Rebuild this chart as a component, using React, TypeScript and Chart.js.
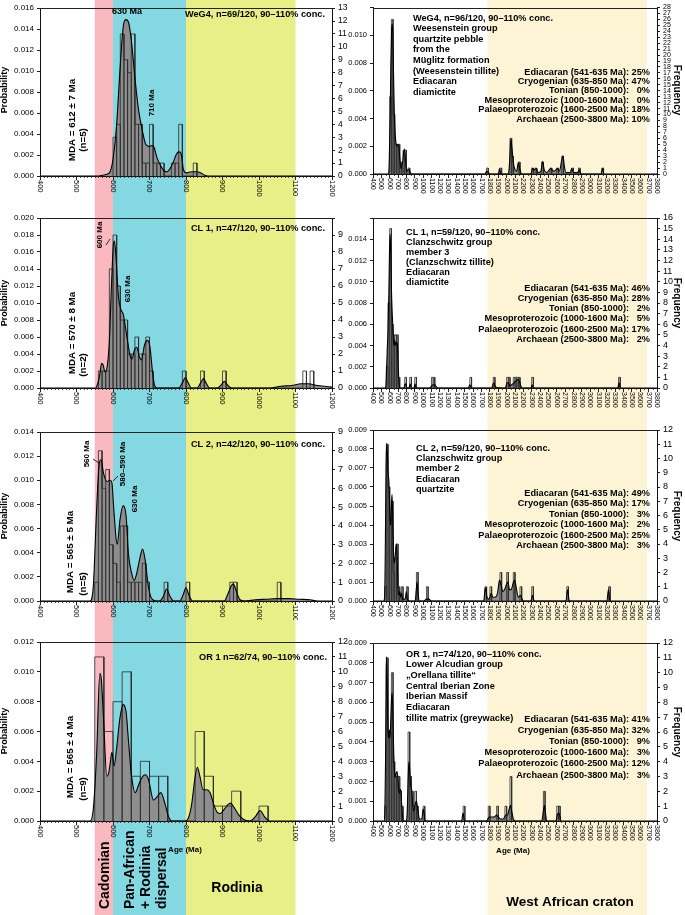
import React, { useEffect, useRef } from 'react';
import { Chart, registerables } from 'chart.js';

Chart.register(...registerables);

const FONT = '"Liberation Sans", Arial, Helvetica, sans-serif';
Chart.defaults.font.family = FONT;
Chart.defaults.color = '#000';

type Pair = [number, number];

// ---------------- axis tick labels ----------------
const LEFT_AGE_TICKS = [400, 500, 600, 700, 800, 900, 1000, 1100, 1200];
const RIGHT_AGE_TICKS = [400, 500, 600, 700, 800, 900, 1000, 1100, 1200, 1300, 1400, 1500, 1600, 1700, 1800, 1900, 2000, 2100, 2200, 2300, 2400, 2500, 2600, 2700, 2800, 2900, 3000, 3100, 3200, 3300, 3400, 3500, 3600, 3700, 3800];

// ---------------- background age ranges ----------------
const LEFT_BAND_RANGES: Pair[] = [[550, 600], [600, 800], [800, 1100]];
const RIGHT_BAND_RANGES: Pair[] = [[1770, 3680]];

// ---------------- period table ----------------
const PERIOD_LABELS = [
  'Ediacaran (541-635 Ma):',
  'Cryogenian (635-850 Ma):',
  'Tonian (850-1000):',
  'Mesoproterozoic (1000-1600 Ma):',
  'Palaeoproterozoic (1600-2500 Ma):',
  'Archaean (2500-3800 Ma):',
];
const R1_PCT = ['25%', '47%', '0%', '0%', '18%', '10%'];
const R2_PCT = ['46%', '28%', '2%', '5%', '17%', '2%'];
const R3_PCT = ['49%', '17%', '3%', '2%', '25%', '3%'];
const R4_PCT = ['41%', '32%', '9%', '3%', '12%', '3%'];

const R1_INFO = ['WeG4, n=96/120, 90–110% conc.', 'Weesenstein group', 'quartzite pebble', 'from the', 'Müglitz formation', '(Weesenstein tillite)', 'Ediacaran', 'diamictite'];
const R2_INFO = ['CL 1, n=59/120, 90–110% conc.', 'Clanzschwitz group', 'member 3', '(Clanzschwitz tillite)', 'Ediacaran', 'diamictite'];
const R3_INFO = ['CL 2, n=59/120, 90–110% conc.', 'Clanzschwitz group', 'member 2', 'Ediacaran', 'quartzite'];
const R4_INFO = ['OR 1, n=74/120, 90–110% conc.', 'Lower Alcudian group', '„Orellana tillite“', 'Central Iberian Zone', 'Iberian Massif', 'Ediacaran', 'tillite matrix (greywacke)'];

// ---------------- left panels (550-1200 Ma) ----------------
// WeG4
const L1_KDE: Pair[] = [[400, 0], [560, 0], [575, 0.0001], [585, 0.0002], [592, 0.0004], [600, 0.0016], [610, 0.0049], [620, 0.0106], [628, 0.0142], [635, 0.0149], [642, 0.0147], [650, 0.013], [660, 0.0094], [670, 0.0063], [680, 0.0044], [690, 0.003], [700, 0.0028], [707, 0.0029], [713, 0.0027], [720, 0.0018], [730, 0.001], [740, 0.0005], [748, 0.0004], [756, 0.0007], [765, 0.0013], [774, 0.0021], [782, 0.0023], [788, 0.0019], [793, 0.0006], [802, 0.0003], [815, 0.0004], [829, 0.0004], [840, 0.0003], [850, 0.0001], [860, 0], [1200, 0]];
const L1_HIST: Pair[] = [[600, 3], [610, 4], [620, 11], [630, 9], [640, 8], [650, 11], [660, 4], [670, 4], [680, 1], [690, 1], [700, 4], [710, 1], [720, 1], [730, 1], [760, 1], [770, 1], [780, 4], [820, 1]];
// CL 1
const L2_KDE: Pair[] = [[400, 0], [552, 0], [558, 0.0005], [563, 0.0014], [569, 0.0029], [573, 0.0027], [578, 0.0019], [584, 0.0025], [590, 0.0055], [596, 0.0123], [601, 0.0168], [604, 0.0173], [608, 0.0155], [615, 0.0107], [622, 0.0092], [628, 0.0087], [634, 0.0072], [640, 0.0055], [647, 0.0038], [652, 0.0034], [659, 0.0045], [665, 0.0048], [672, 0.0037], [678, 0.0033], [686, 0.005], [694, 0.0056], [701, 0.0049], [708, 0.002], [714, 0.0003], [720, 0], [780, 0], [790, 0.0006], [798, 0.0012], [806, 0.0006], [815, 0], [830, 0], [840, 0.0006], [848, 0.0011], [856, 0.0005], [865, 0], [885, 0], [897, 0.0004], [905, 0.0008], [913, 0.0004], [925, 0], [1030, 0], [1060, 0.0002], [1090, 0.0003], [1115, 0.0005], [1135, 0.0005], [1160, 0.0003], [1180, 0.0002], [1200, 0.0001]];
const L2_HIST: Pair[] = [[560, 1], [570, 1], [580, 1], [590, 7], [600, 9], [610, 6], [620, 4], [630, 4], [640, 2], [650, 2], [660, 3], [670, 2], [680, 2], [690, 3], [700, 1], [790, 1], [840, 1], [900, 1], [1120, 1], [1140, 1]];
// CL 2
const L3_KDE: Pair[] = [[400, 0], [537, 0], [546, 0.0012], [555, 0.0075], [562, 0.0113], [567, 0.0117], [574, 0.0106], [583, 0.0099], [592, 0.01], [597, 0.0098], [601, 0.0081], [608, 0.0053], [612, 0.0047], [619, 0.0067], [628, 0.0079], [636, 0.007], [642, 0.004], [651, 0.0023], [658, 0.0017], [665, 0.0023], [674, 0.0036], [681, 0.0043], [688, 0.0034], [697, 0.0012], [706, 0.0002], [718, 0], [728, 0], [738, 0.0004], [747, 0.001], [756, 0.0004], [766, 0], [783, 0], [792, 0.0005], [800, 0.0011], [808, 0.0005], [818, 0], [905, 0], [915, 0.0006], [925, 0.0013], [930, 0.0014], [938, 0.0008], [948, 0.0001], [960, 0], [990, 0.0001], [1020, 0.00015], [1050, 0.0002], [1080, 0.0002], [1110, 0.00015], [1140, 0.0001], [1160, 0], [1200, 0]];
const L3_HIST: Pair[] = [[550, 1], [560, 8], [570, 6], [580, 7], [590, 3], [600, 2], [610, 1], [620, 4], [630, 4], [640, 1], [650, 1], [660, 1], [670, 1], [680, 2], [690, 1], [740, 1], [800, 1], [920, 1], [930, 1], [1050, 1]];
// OR 1 (25 Ma bins)
const L4_KDE: Pair[] = [[400, 0], [537, 0], [546, 0.0008], [555, 0.0044], [564, 0.0099], [568, 0.0095], [574, 0.0069], [583, 0.003], [588, 0.0032], [592, 0.0038], [597, 0.0046], [603, 0.0037], [610, 0.0049], [619, 0.0069], [628, 0.0078], [636, 0.0073], [642, 0.0055], [651, 0.003], [661, 0.0019], [670, 0.0024], [679, 0.0029], [688, 0.0031], [697, 0.0028], [711, 0.0014], [720, 0.0016], [731, 0.0019], [743, 0.0011], [752, 0.0003], [761, 0], [800, 0], [808, 0.0003], [816, 0.0012], [824, 0.0028], [831, 0.0036], [838, 0.003], [847, 0.0021], [857, 0.0021], [866, 0.0019], [875, 0.0012], [885, 0.0006], [894, 0.0005], [905, 0.0008], [915, 0.0011], [922, 0.0012], [932, 0.0009], [945, 0.0004], [958, 0.0001], [975, 0], [990, 0.0003], [1003, 0.0007], [1015, 0.0003], [1030, 0], [1200, 0]];
const L4_HIST: Pair[] = [[550, 11], [575, 6], [600, 8], [625, 10], [650, 3], [675, 4], [700, 3], [725, 3], [825, 6], [850, 3], [875, 1], [900, 1], [925, 2], [1000, 1]];

// ---------------- right panels (400-3800 Ma, 20 Ma bins) ----------------
const R1_KDE: Pair[] = [[400, 0], [585, 0], [595, 0.001], [605, 0.004], [613, 0.0075], [622, 0.0103], [630, 0.0108], [638, 0.01], [647, 0.0068], [656, 0.0042], [666, 0.0028], [676, 0.0022], [686, 0.002], [696, 0.0021], [706, 0.0021], [716, 0.0015], [726, 0.0008], [736, 0.0004], [746, 0.0005], [756, 0.0009], [766, 0.0015], [776, 0.0018], [785, 0.0014], [794, 0.0006], [804, 0.0002], [818, 0.0003], [832, 0.0003], [846, 0.0001], [860, 0], [1740, 0], [1760, 0.0002], [1780, 0.0001], [1800, 0], [1900, 0], [1915, 0.0004], [1930, 0], [2020, 0], [2035, 0.0008], [2050, 0.0025], [2065, 0.0018], [2080, 0.0008], [2100, 0.0003], [2120, 0.0002], [2140, 0.0008], [2160, 0.0003], [2180, 0], [2290, 0], [2310, 0.0004], [2330, 0.0003], [2355, 0.0004], [2375, 0.0001], [2410, 0.0002], [2430, 0.0009], [2450, 0.0003], [2480, 0.0001], [2510, 0.0003], [2530, 0.0004], [2560, 0.0002], [2590, 0.0003], [2605, 0.0004], [2630, 0.0002], [2660, 0.001], [2675, 0.0013], [2690, 0.0006], [2710, 0.0001], [2760, 0.0001], [2780, 0.0004], [2800, 0.0001], [2850, 0.0001], [2870, 0.0003], [2890, 0], [3130, 0], [3147, 0.0004], [3165, 0], [3800, 0]];
const R1_HIST: Pair[] = [[600, 13], [620, 26], [640, 10], [660, 5], [680, 5], [700, 5], [720, 2], [740, 1], [760, 4], [780, 4], [820, 1], [1760, 1], [1920, 1], [2040, 6], [2060, 3], [2140, 2], [2300, 1], [2340, 1], [2420, 2], [2520, 1], [2600, 1], [2660, 3], [2780, 1], [2860, 1], [3140, 1]];

const R2_KDE: Pair[] = [[400, 0], [552, 0], [560, 0.0012], [570, 0.0035], [580, 0.0055], [590, 0.009], [598, 0.013], [605, 0.0145], [612, 0.013], [620, 0.0095], [630, 0.007], [640, 0.0052], [650, 0.004], [660, 0.0045], [670, 0.004], [680, 0.0043], [690, 0.0042], [700, 0.0025], [710, 0.0006], [720, 0], [770, 0], [785, 0.0004], [795, 0.0003], [810, 0], [830, 0], [845, 0.0004], [858, 0], [890, 0], [903, 0.0004], [915, 0], [1080, 0], [1100, 0.0002], [1120, 0.0003], [1140, 0.0003], [1160, 0.0001], [1180, 0], [1540, 0], [1560, 0.0003], [1580, 0], [1820, 0], [1845, 0.0005], [1865, 0.0001], [1985, 0], [2005, 0.0005], [2020, 0.0005], [2040, 0.0002], [2060, 0.0003], [2090, 0.0005], [2115, 0.0007], [2135, 0.0008], [2155, 0.0006], [2170, 0.0002], [2185, 0], [2290, 0], [2305, 0.0003], [2320, 0], [3330, 0], [3346, 0.0005], [3362, 0], [3800, 0]];
const R2_HIST: Pair[] = [[560, 2], [580, 8], [600, 15], [620, 6], [640, 5], [660, 5], [680, 5], [700, 1], [780, 1], [840, 1], [900, 1], [1100, 1], [1120, 1], [1560, 1], [1840, 1], [2000, 1], [2020, 1], [2080, 1], [2100, 1], [2120, 1], [2140, 1], [2300, 1], [3340, 1]];

const R3_KDE: Pair[] = [[400, 0], [530, 0], [540, 0.0003], [548, 0.003], [556, 0.007], [564, 0.0083], [572, 0.0078], [580, 0.0068], [590, 0.0063], [598, 0.0052], [606, 0.004], [613, 0.004], [620, 0.005], [628, 0.0056], [636, 0.0042], [645, 0.0026], [655, 0.002], [665, 0.0023], [675, 0.0029], [683, 0.003], [692, 0.0018], [700, 0.0006], [710, 0.0003], [722, 0.0005], [732, 0.0002], [745, 0.0004], [755, 0.0001], [785, 0.0001], [800, 0.0005], [812, 0.0001], [830, 0], [905, 0], [918, 0.0006], [928, 0.001], [938, 0.0005], [952, 0], [1010, 0], [1040, 0.0001], [1070, 0.0001], [1100, 0], [1725, 0], [1745, 0.0007], [1765, 0.0002], [1790, 0.0001], [1815, 0.0004], [1835, 0.0002], [1860, 0.0002], [1890, 0.0004], [1915, 0.0011], [1935, 0.0008], [1955, 0.0005], [1975, 0.0006], [2000, 0.0009], [2015, 0.001], [2035, 0.0006], [2055, 0.0006], [2075, 0.0009], [2095, 0.0011], [2115, 0.0007], [2140, 0.0002], [2165, 0.0003], [2185, 0.0001], [2200, 0], [2290, 0], [2310, 0.0003], [2330, 0], [2710, 0], [2730, 0.0006], [2750, 0], [3200, 0], [3219, 0.0006], [3238, 0], [3800, 0]];
const R3_HIST: Pair[] = [[540, 1], [560, 11], [580, 8], [600, 6], [620, 7], [640, 2], [660, 3], [680, 4], [700, 1], [740, 1], [800, 1], [920, 2], [1040, 1], [1740, 1], [1800, 1], [1920, 2], [2000, 2], [2080, 2], [2160, 1], [2300, 1], [2720, 1], [3220, 1]];

const R4_KDE: Pair[] = [[400, 0], [530, 0], [542, 0.0004], [550, 0.003], [558, 0.0075], [564, 0.0083], [571, 0.0068], [580, 0.0045], [588, 0.0042], [596, 0.0046], [604, 0.0042], [612, 0.005], [620, 0.006], [628, 0.0065], [636, 0.0058], [645, 0.004], [655, 0.0026], [665, 0.0022], [675, 0.0024], [688, 0.0025], [700, 0.002], [712, 0.0014], [722, 0.0015], [732, 0.0016], [742, 0.0009], [752, 0.0003], [765, 0], [800, 0], [810, 0.0005], [820, 0.002], [830, 0.003], [840, 0.0026], [850, 0.0018], [862, 0.0016], [872, 0.001], [885, 0.0005], [895, 0.0006], [908, 0.0009], [920, 0.001], [932, 0.0007], [945, 0.0003], [960, 0.0001], [985, 0.0001], [1000, 0.0006], [1012, 0.0004], [1025, 0], [1460, 0], [1478, 0.0004], [1495, 0], [1760, 0], [1790, 0.0002], [1820, 0.0002], [1850, 0.0002], [1880, 0.0003], [1900, 0.0002], [1930, 0.0001], [1960, 0.0001], [1990, 0.0003], [2010, 0.0003], [2030, 0.0006], [2045, 0.0008], [2060, 0.0005], [2080, 0.0001], [2100, 0], [2420, 0], [2440, 0.0005], [2452, 0.0008], [2465, 0.0004], [2480, 0], [2590, 0], [2605, 0.0003], [2620, 0.0004], [2635, 0.0003], [2650, 0], [3800, 0]];
const R4_HIST: Pair[] = [[540, 1], [560, 11], [580, 6], [600, 6], [620, 10], [640, 4], [660, 3], [680, 3], [700, 3], [720, 2], [740, 1], [820, 6], [840, 3], [860, 2], [880, 1], [900, 2], [920, 1], [1000, 1], [1480, 1], [1780, 1], [1880, 1], [1980, 1], [2040, 3], [2440, 2], [2600, 1], [2620, 1]];

// ---------------- layout / style ----------------
const B = (s: number) => `bold ${s}px ${FONT}`;

type Txt = { t: string; x: number; y: number; rot?: number; align?: CanvasTextAlign; font: string };

interface Col {
  left: number; width: number; plotLeft: number; plotRight: number;
  xMin: number; xMax: number; ticks: number[]; minor: number; xFont: number;
  bands: Pair[]; bandColors: string[];
}

const COLS: Record<'L' | 'R', Col> = {
  L: { left: 0, width: 350, plotLeft: 40, plotRight: 332, xMin: 400, xMax: 1200, ticks: LEFT_AGE_TICKS, minor: 10, xFont: 7.5, bands: LEFT_BAND_RANGES, bandColors: ['#f9b9bf', '#84d8e1', '#e8ef86'] },
  R: { left: 340, width: 345, plotLeft: 373, plotRight: 657, xMin: 400, xMax: 3800, ticks: RIGHT_AGE_TICKS, minor: 50, xFont: 7, bands: RIGHT_BAND_RANGES, bandColors: ['#fcf4d5'] },
};

interface Panel {
  key: string; col: 'L' | 'R';
  cTop: number; pTop: number; pBot: number; cBot: number;
  kde: Pair[]; hist: Pair[]; bin: number;
  yMax: number; yStep: number; fMax: number;
  hideTopY?: boolean; hideTopF?: boolean;
  yFont: number; fFont: number;
  texts: Txt[]; leaders?: number[][];
}

function infoTexts(lines: string[], x: number, y: number, lh: number, pct: string[], py: number, ps: number): Txt[] {
  const out: Txt[] = lines.map((t, i) => ({ t, x, y: y + i * lh, align: 'left' as CanvasTextAlign, font: B(9.2) }));
  PERIOD_LABELS.forEach((t, i) => {
    out.push({ t, x: 629, y: py + i * ps, align: 'right', font: B(9.2) });
    out.push({ t: pct[i], x: 650, y: py + i * ps, align: 'right', font: B(9.2) });
  });
  return out;
}

const prob = (y: number): Txt => ({ t: 'Probability', x: 5, y, rot: -90, font: B(9) });
const freq = (y: number): Txt => ({ t: 'Frequency', x: 677, y, rot: 90, font: B(10) });

const PANELS: Panel[] = [
  {
    key: 'L1', col: 'L', cTop: 0, pTop: 5, pBot: 176, cBot: 200, kde: L1_KDE, hist: L1_HIST, bin: 10,
    yMax: 0.016, yStep: 0.002, fMax: 13, yFont: 8, fFont: 8.5,
    texts: [
      { t: 'WeG4, n=69/120, 90–110% conc.', x: 325, y: 14, align: 'right', font: B(9.2) },
      { t: '630 Ma', x: 127, y: 12, font: B(9) },
      { t: '710 Ma', x: 152, y: 103, rot: -90, font: B(8) },
      { t: 'MDA = 612 ± 7 Ma', x: 72, y: 120, rot: -90, font: B(9.8) },
      { t: '(n=5)', x: 83, y: 140, rot: -90, font: B(9.8) },
      prob(90),
    ],
  },
  {
    key: 'L2', col: 'L', cTop: 200, pTop: 218, pBot: 388, cBot: 410, kde: L2_KDE, hist: L2_HIST, bin: 10,
    yMax: 0.02, yStep: 0.002, fMax: 10, hideTopF: true, yFont: 8, fFont: 9,
    texts: [
      { t: 'CL 1, n=47/120, 90–110% conc.', x: 325, y: 228, align: 'right', font: B(9.2) },
      { t: '600 Ma', x: 100, y: 235, rot: -90, font: B(8) },
      { t: '630 Ma', x: 128, y: 289, rot: -90, font: B(8) },
      { t: 'MDA = 570 ± 8 Ma', x: 72, y: 333, rot: -90, font: B(9.8) },
      { t: '(n=2)', x: 83, y: 365, rot: -90, font: B(9.8) },
      prob(303),
    ],
    leaders: [[106, 245, 110, 239]],
  },
  {
    key: 'L3', col: 'L', cTop: 410, pTop: 432, pBot: 601, cBot: 620, kde: L3_KDE, hist: L3_HIST, bin: 10,
    yMax: 0.014, yStep: 0.002, fMax: 9, yFont: 8, fFont: 9,
    texts: [
      { t: 'CL 2, n=42/120, 90–110% conc.', x: 325, y: 444, align: 'right', font: B(9.2) },
      { t: '560 Ma', x: 87, y: 454, rot: -90, font: B(8) },
      { t: '580–590 Ma', x: 123, y: 464, rot: -90, font: B(8) },
      { t: '630 Ma', x: 135, y: 499, rot: -90, font: B(8) },
      { t: 'MDA = 565 ± 5 Ma', x: 70, y: 552, rot: -90, font: B(9.8) },
      { t: '(n=5)', x: 83, y: 584, rot: -90, font: B(9.8) },
      prob(516),
    ],
    leaders: [[93, 459, 99, 463], [113, 481, 118, 476]],
  },
  {
    key: 'L4', col: 'L', cTop: 620, pTop: 642, pBot: 821, cBot: 915, kde: L4_KDE, hist: L4_HIST, bin: 25,
    yMax: 0.012, yStep: 0.002, fMax: 12, yFont: 8, fFont: 9,
    texts: [
      { t: 'OR 1 n=62/74, 90–110% conc.', x: 327, y: 657, align: 'right', font: B(9.2) },
      { t: 'MDA = 565 ± 4 Ma', x: 70, y: 757, rot: -90, font: B(9.8) },
      { t: '(n=9)', x: 83, y: 789, rot: -90, font: B(9.8) },
      prob(731),
      { t: 'Age (Ma)', x: 185, y: 850, font: B(8) },
      { t: 'Cadomian', x: 105, y: 909, rot: -90, align: 'left', font: B(14) },
      { t: 'Pan-African', x: 130, y: 909, rot: -90, align: 'left', font: B(14) },
      { t: '+ Rodinia', x: 146, y: 909, rot: -90, align: 'left', font: B(14) },
      { t: 'dispersal', x: 162, y: 909, rot: -90, align: 'left', font: B(14) },
      { t: 'Rodinia', x: 237, y: 888, font: B(14) },
    ],
  },
  {
    key: 'R1', col: 'R', cTop: 0, pTop: 5, pBot: 174, cBot: 200, kde: R1_KDE, hist: R1_HIST, bin: 20,
    yMax: 0.012, yStep: 0.002, fMax: 28, hideTopY: true, yFont: 7.5, fFont: 7,
    texts: [...infoTexts(R1_INFO, 413, 18, 10.6, R1_PCT, 72, 9.4), freq(90)],
  },
  {
    key: 'R2', col: 'R', cTop: 200, pTop: 218, pBot: 388, cBot: 410, kde: R2_KDE, hist: R2_HIST, bin: 20,
    yMax: 0.016, yStep: 0.002, fMax: 16, hideTopY: true, yFont: 7.5, fFont: 9,
    texts: [...infoTexts(R2_INFO, 406, 232, 10.1, R2_PCT, 288, 10.3), freq(303)],
  },
  {
    key: 'R3', col: 'R', cTop: 410, pTop: 430, pBot: 601, cBot: 620, kde: R3_KDE, hist: R3_HIST, bin: 20,
    yMax: 0.009, yStep: 0.001, fMax: 12, yFont: 7.5, fFont: 9,
    texts: [...infoTexts(R3_INFO, 416, 448, 10.4, R3_PCT, 493, 10.5), freq(516)],
  },
  {
    key: 'R4', col: 'R', cTop: 620, pTop: 643, pBot: 821, cBot: 915, kde: R4_KDE, hist: R4_HIST, bin: 20,
    yMax: 0.009, yStep: 0.001, fMax: 12, yFont: 7.5, fFont: 9,
    texts: [
      ...infoTexts(R4_INFO, 406, 654, 10.7, R4_PCT, 719, 11.2),
      freq(732),
      { t: 'Age (Ma)', x: 513, y: 851, font: B(8) },
      { t: 'West African craton', x: 570, y: 902, font: B(13.5) },
    ],
  },
];

function histOutline(hist: Pair[], bin: number) {
  const pts: { x: number; y: number }[] = [];
  for (const [s, c] of hist) {
    pts.push({ x: s, y: 0 }, { x: s, y: c }, { x: s + bin, y: c }, { x: s + bin, y: 0 });
  }
  return pts;
}

function makeDecor(p: Panel) {
  const col = COLS[p.col];
  return {
    id: 'decor' + p.key,
    beforeDraw(chart: any) {
      const { ctx, scales } = chart;
      const xs = scales.x;
      ctx.save();
      col.bands.forEach(([a, b], i) => {
        const x0 = xs.getPixelForValue(a);
        const x1 = xs.getPixelForValue(b);
        ctx.fillStyle = col.bandColors[i];
        ctx.fillRect(x0, 0, x1 - x0, chart.height);
      });
      ctx.restore();
    },
    afterDraw(chart: any) {
      const { ctx, scales, chartArea: ca } = chart;
      const xs = scales.x;
      ctx.save();
      ctx.strokeStyle = '#222';
      ctx.lineWidth = 1;
      ctx.beginPath();
      const ty = Math.round(ca.top) + 0.5;
      ctx.moveTo(ca.left, ty);
      ctx.lineTo(ca.right, ty);
      ctx.stroke();
      // minor ticks
      ctx.lineWidth = 0.8;
      ctx.beginPath();
      for (let v = col.xMin; v <= col.xMax + 1e-6; v += col.minor) {
        if (v % 100 === 0) continue;
        const px = Math.round(xs.getPixelForValue(v)) + 0.5;
        ctx.moveTo(px, ca.bottom);
        ctx.lineTo(px, ca.bottom + 2);
      }
      ctx.stroke();
      // rotated x tick labels
      ctx.fillStyle = '#000';
      ctx.font = `${col.xFont}px ${FONT}`;
      ctx.textAlign = 'left';
      ctx.textBaseline = 'middle';
      for (const v of col.ticks) {
        const px = xs.getPixelForValue(v);
        ctx.save();
        ctx.translate(px, ca.bottom + 4);
        ctx.rotate(Math.PI / 2);
        ctx.fillText(String(v), 0, 0);
        ctx.restore();
      }
      // leaders
      if (p.leaders) {
        ctx.strokeStyle = '#000';
        ctx.lineWidth = 0.8;
        ctx.beginPath();
        for (const [x1, y1, x2, y2] of p.leaders) {
          ctx.moveTo(x1 - col.left, y1 - p.cTop);
          ctx.lineTo(x2 - col.left, y2 - p.cTop);
        }
        ctx.stroke();
      }
      // texts
      for (const t of p.texts) {
        ctx.save();
        ctx.font = t.font;
        ctx.fillStyle = '#000';
        ctx.textAlign = t.align ?? 'center';
        ctx.textBaseline = 'middle';
        ctx.translate(t.x - col.left, t.y - p.cTop);
        if (t.rot) ctx.rotate((t.rot * Math.PI) / 180);
        ctx.fillText(t.t, 0, 0);
        ctx.restore();
      }
      ctx.restore();
    },
  };
}

function buildConfig(p: Panel): any {
  const col = COLS[p.col];
  const kdePts = p.kde.map(([x, y]) => ({ x, y }));
  const axisGrid = { drawOnChartArea: false, drawTicks: true, tickLength: 3, color: '#222', lineWidth: 1 };
  return {
    type: 'line',
    data: {
      datasets: [
        { data: kdePts, yAxisID: 'y', borderWidth: 0, borderColor: 'rgba(0,0,0,0)', backgroundColor: '#8e8e8e', fill: 'origin', pointRadius: 0, tension: 0.4, cubicInterpolationMode: 'monotone', order: 3 },
        { data: histOutline(p.hist, p.bin), yAxisID: 'y1', borderWidth: 0.8, borderColor: '#2a2a2a', fill: false, pointRadius: 0, tension: 0, order: 2 },
        { data: kdePts, yAxisID: 'y', borderWidth: 1.1, borderColor: '#000', fill: false, pointRadius: 0, tension: 0.4, cubicInterpolationMode: 'monotone', order: 1 },
      ],
    },
    options: {
      animation: false,
      responsive: false,
      devicePixelRatio: 1,
      events: [],
      layout: { padding: { top: p.pTop - p.cTop, bottom: p.cBot - p.pBot, left: 0, right: 0 } },
      plugins: { legend: { display: false }, tooltip: { enabled: false } },
      scales: {
        x: {
          type: 'linear', min: col.xMin, max: col.xMax,
          ticks: { display: false, stepSize: 100 },
          grid: { drawOnChartArea: false, drawTicks: true, tickLength: 4, color: '#222' },
          border: { display: true, color: '#111', width: 1 },
          afterFit: (s: any) => { s.height = 0; },
        },
        y: {
          type: 'linear', position: 'left', min: 0, max: p.yMax,
          ticks: {
            stepSize: p.yStep, autoSkip: false, padding: 3, color: '#000', font: { size: p.yFont },
            callback: (v: number) => (p.hideTopY && v >= p.yMax - 1e-9 ? '' : Number(v).toFixed(3)),
          },
          grid: axisGrid,
          border: { display: true, color: '#111', width: 1 },
          afterFit: (s: any) => { s.width = col.plotLeft - col.left; },
        },
        y1: {
          type: 'linear', position: 'right', min: 0, max: p.fMax,
          ticks: {
            stepSize: 1, autoSkip: false, padding: 3, color: '#000', font: { size: p.fFont },
            callback: (v: number) => (p.hideTopF && v >= p.fMax ? '' : String(Math.round(v))),
          },
          grid: axisGrid,
          border: { display: true, color: '#111', width: 1 },
          afterFit: (s: any) => { s.width = col.left + col.width - col.plotRight; },
        },
      },
    },
    plugins: [makeDecor(p)],
  };
}

function PanelCanvas({ panel }: { panel: Panel }) {
  const ref = useRef<HTMLCanvasElement>(null);
  const col = COLS[panel.col];
  const h = panel.cBot - panel.cTop;
  useEffect(() => {
    const chart = new Chart(ref.current as HTMLCanvasElement, buildConfig(panel));
    return () => chart.destroy();
  }, [panel]);
  return (
    <canvas
      ref={ref}
      width={col.width}
      height={h}
      style={{ position: 'absolute', left: col.left, top: panel.cTop, width: col.width, height: h }}
    />
  );
}

export default function App() {
  return (
    <div style={{ position: 'absolute', left: 0, top: 0, width: 685, height: 915, background: '#fff', overflow: 'hidden' }}>
      {PANELS.map((p) => (
        <PanelCanvas key={p.key} panel={p} />
      ))}
    </div>
  );
}
